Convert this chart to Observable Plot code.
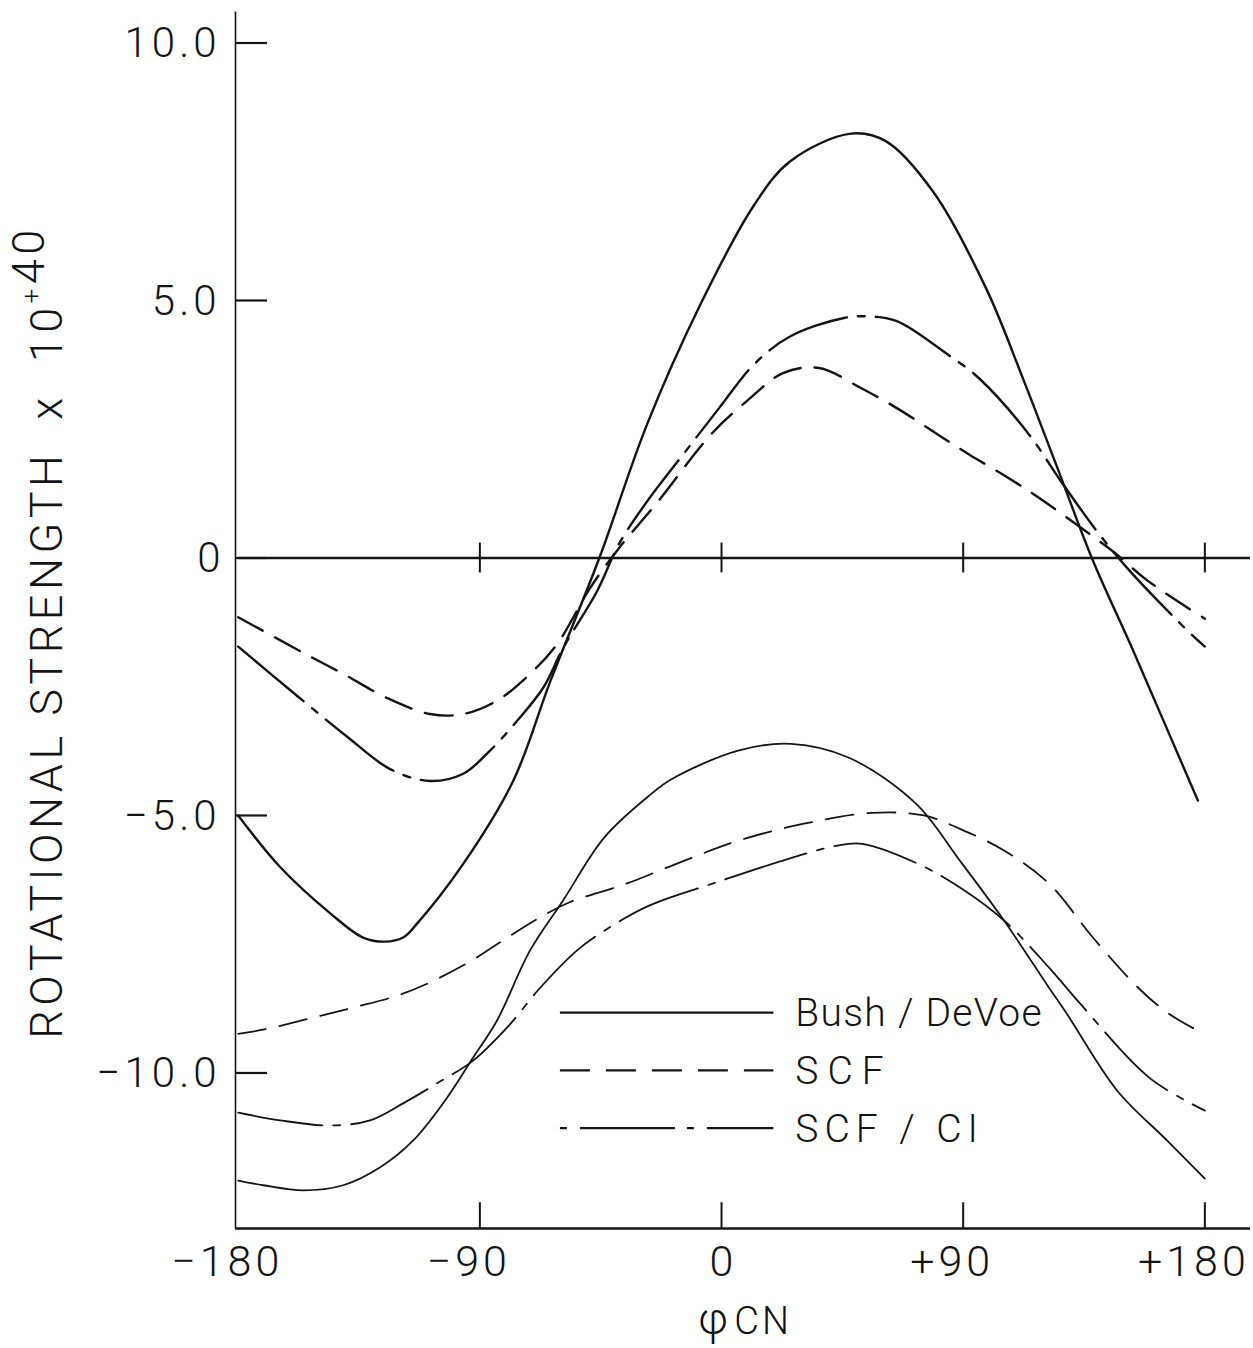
<!DOCTYPE html>
<html>
<head>
<meta charset="utf-8">
<script src="https://cdn.jsdelivr.net/npm/d3@7"></script>
<script src="https://cdn.jsdelivr.net/npm/@observablehq/plot@0.6"></script>
<style>
  html, body { margin: 0; padding: 0; background: #fff; }
  #chart { width: 1253px; height: 1348px; }
</style>
</head>
<body>
<div id="chart"></div>
<script>
// ---------- data ----------
// Upper set of curves (A)
const phiBushDeVoeA = [-180, -164.4, -145.7, -133.5, -125.3, -118.6, -113.4, -96.2, -77.6, -63.8, -45.5, -27.7, -7.6, 12.1, 25.5, 48.2, 61.3, 78.7, 98.5, 112.6, 125.3, 138.3, 152.8, 165.5, 177.4];
const rsBushDeVoeA  = [-5.0, -6.0, -6.9, -7.37, -7.45, -7.37, -7.1, -5.94, -4.33, -2.4, 0.0, 2.6, 4.95, 6.85, 7.7, 8.24, 8.09, 7.12, 5.24, 3.44, 1.72, -0.05, -1.74, -3.27, -4.71];

const phiSCFA = [-180, -155.8, -140.9, -124.5, -108.5, -96.2, -83.6, -71.3, -61.2, -48.9, -38.2, -23.6, -3.9, 9.5, 22.9, 36.3, 51.9, 65.3, 78.7, 92.2, 106.7, 120.1, 138, 146.5, 158.4, 180];
const rsSCFA  = [-1.15, -1.84, -2.25, -2.72, -3.03, -3.03, -2.77, -2.25, -1.67, -0.58, 0.19, 1.1, 2.4, 3.05, 3.59, 3.69, 3.3, 2.91, 2.46, 2.01, 1.56, 1.1, 0.43, 0.1, -0.43, -1.18];

const phiSCFCIA = [-180, -158, -139.4, -123.4, -108.5, -96.2, -86.2, -76.1, -66.4, -59, -46.3, -38.2, -27.7, -14.3, -0.9, 12.1, 25.5, 45.6, 54.9, 65.3, 84, 95.9, 114.5, 126.4, 139.8, 151.7, 174.1, 180];
const rsSCFCIA  = [-1.72, -2.68, -3.47, -4.1, -4.33, -4.19, -3.74, -3.16, -2.52, -1.75, -0.64, 0.27, 1.1, 2.01, 2.91, 3.76, 4.3, 4.66, 4.69, 4.6, 3.96, 3.49, 2.4, 1.49, 0.52, -0.23, -1.44, -1.72];

// Lower set of curves (B)
const phiBushDeVoeB = [-180, -170.7, -155.8, -140.9, -127.1, -114.8, -102.2, -92.5, -83.6, -71.3, -59, -43.7, -26.6, -18.8, 6.2, 25.9, 47.5, 72.4, 88.8, 105.2, 121.9, 128.6, 147.3, 165.9, 180];
const rsBushDeVoeB  = [-12.09, -12.18, -12.28, -12.18, -11.83, -11.31, -10.48, -9.7, -8.98, -7.62, -6.65, -5.43, -4.6, -4.3, -3.74, -3.61, -3.88, -4.77, -5.88, -7.04, -8.34, -8.85, -10.34, -11.31, -12.05];

const phiSCFB = [-180, -170.7, -153.2, -137.2, -120.8, -108.5, -92.5, -83.6, -67.6, -56.8, -35.2, -14, 6.2, 30.7, 55.7, 75.4, 88.8, 105.2, 121.9, 138.3, 155.1, 166.6, 180];
const rsSCFB  = [-9.24, -9.16, -8.94, -8.73, -8.5, -8.24, -7.8, -7.5, -6.98, -6.69, -6.32, -5.88, -5.49, -5.16, -4.95, -5.0, -5.26, -5.68, -6.32, -7.37, -8.34, -8.85, -9.25];

const phiSCFCIB = [-180, -164.4, -145.7, -130.9, -118.6, -105.9, -92.5, -79.9, -67.6, -53.8, -43.7, -27, -2, 22.5, 42.6, 52.3, 72.4, 88.8, 105.2, 121.9, 133.5, 159.5, 180];
const rsSCFCIB  = [-10.77, -10.92, -11.02, -10.92, -10.59, -10.2, -9.76, -9.12, -8.35, -7.62, -7.24, -6.75, -6.3, -5.88, -5.59, -5.55, -5.92, -6.4, -7.04, -7.95, -8.65, -10.1, -10.73];

// axes
const xTicks = [-180, -90, 0, 90, 180];
const xTickLabels = ["\u2212180", "\u221290", "0", "+90", "+180"];
const yTicks = [10, 5, 0, -5, -10];
const yTickLabels = ["10.0", "5.0", "0", "\u22125.0", "\u221210.0"];
const innerXTicks = [-90, 0, 90, 180];

// legend
const legendMethods = ["Bush/DeVoe", "SCF", "SCF/CI"];
const legendLabels = ["Bush / DeVoe", "SCF", "SCF / CI"];
const legendRS = [-8.83, -9.95, -11.07];

const xLabel = ["\u03C6", "CN"];
const yLabelMain = "ROTATIONAL STRENGTH  x  10";
const yLabelSup = ["+", "40"];

// ---------- build ----------
const X_DOMAIN = [-181, 197];
const Y_DOMAIN = [-13.02, 10.6];
const LEG_X1 = -60, LEG_X2 = 19.5, LEG_TX = 27.5;
const ZERO_TICK_HALF = 0.29;     // half length of ticks on the zero line (in y units)
const Y_TICK_LEN = 11.9;         // length of y ticks (in x units)
const X_TICK_LEN = 0.5;          // length of x ticks on bottom axis (in y units)

const dashOf = {"Bush/DeVoe": null, "SCF": "28,14", "SCF/CI": "85,11,7,11"};
const legendDash = {"Bush/DeVoe": null, "SCF": "30,16", "SCF/CI": "7,13,95,12"};
const legendSpacing = {"Bush / DeVoe": 1.3, "SCF": 9, "SCF / CI": 6};

const series = [
  {method: "Bush/DeVoe", set: "A", phi: phiBushDeVoeA, rs: rsBushDeVoeA},
  {method: "SCF", set: "A", phi: phiSCFA, rs: rsSCFA},
  {method: "SCF/CI", set: "A", phi: phiSCFCIA, rs: rsSCFCIA},
  {method: "Bush/DeVoe", set: "B", phi: phiBushDeVoeB, rs: rsBushDeVoeB},
  {method: "SCF", set: "B", phi: phiSCFB, rs: rsSCFB},
  {method: "SCF/CI", set: "B", phi: phiSCFCIB, rs: rsSCFCIB}
];

const ink = "#141414";
const fontFamily = "Roboto, 'Liberation Sans', 'DejaVu Sans', sans-serif";

const curveMarks = series.map(s => Plot.line(
  s.phi.map((p, i) => ({phi: p, rs: s.rs[i]})),
  {x: "phi", y: "rs", curve: "catmull-rom", stroke: ink,
   strokeWidth: s.set === "A" ? 2.4 : 1.8,
   strokeDasharray: dashOf[s.method]}
));

const legendRows = legendMethods.map((m, i) => ({method: m, label: legendLabels[i], rs: legendRS[i]}));
const legendMarks = legendRows.map(r =>
  Plot.ruleY([r], {y: "rs", x1: LEG_X1, x2: LEG_X2, stroke: ink, strokeWidth: 2.2,
    strokeDasharray: legendDash[r.method]})
);

const xSigned = xTicks.filter(d => d !== 0);
const xUnsigned = xTicks.filter(d => d === 0);

const plot = Plot.plot({
  width: 1253,
  height: 1348,
  marginLeft: 235,
  marginRight: 3,
  marginTop: 11.6,
  marginBottom: 120,
  style: {fontFamily, fontWeight: 300, background: "white", color: ink},
  x: {domain: X_DOMAIN, axis: null},
  y: {domain: Y_DOMAIN, axis: null},
  marks: [
    // frame lines
    Plot.ruleX([X_DOMAIN[0]], {y1: Y_DOMAIN[0], y2: Y_DOMAIN[1], stroke: ink, strokeWidth: 1.6}),
    Plot.ruleY([Y_DOMAIN[0]], {x1: X_DOMAIN[0], x2: X_DOMAIN[1], stroke: ink, strokeWidth: 2.6}),
    Plot.ruleY([0], {x1: -180, x2: X_DOMAIN[1], stroke: ink, strokeWidth: 2.4}),
    Plot.ruleX(innerXTicks, {x: d => d, y1: -ZERO_TICK_HALF, y2: ZERO_TICK_HALF, stroke: ink, strokeWidth: 2}),
    // y axis ticks and labels
    Plot.ruleY(yTicks, {y: d => d, x1: X_DOMAIN[0], x2: X_DOMAIN[0] + Y_TICK_LEN, stroke: ink, strokeWidth: 2.2}),
    Plot.text(yTicks, {x: X_DOMAIN[0], y: d => d, text: (d, i) => yTickLabels[i], textAnchor: "end",
      dx: -15, dy: 1, fontSize: 42, fill: ink}),
    // x axis ticks and labels
    Plot.ruleX(innerXTicks, {x: d => d, y1: Y_DOMAIN[0], y2: Y_DOMAIN[0] + X_TICK_LEN, stroke: ink, strokeWidth: 2}),
    Plot.text(xSigned, {x: d => d, y: Y_DOMAIN[0], text: d => xTickLabels[xTicks.indexOf(d)],
      dx: -11, dy: 34, fontSize: 43, fill: ink}),
    Plot.text(xUnsigned, {x: d => d, y: Y_DOMAIN[0], text: d => xTickLabels[xTicks.indexOf(d)],
      dy: 34, fontSize: 43, fill: ink}),
    // curves
    ...curveMarks,
    // legend
    ...legendMarks,
    Plot.text(legendRows, {x: LEG_TX, y: "rs", text: "label", textAnchor: "start", fontSize: 39, dy: 1, fill: ink})
  ]
});

document.getElementById("chart").appendChild(plot);

// letter spacing (the original lettering is wide)
const svg = d3.select(plot);
svg.selectAll("text").each(function () {
  const t = this.textContent;
  if (t in legendSpacing) this.setAttribute("letter-spacing", legendSpacing[t]);
  else if (t !== "0" && yTickLabels.includes(t)) this.setAttribute("letter-spacing", 4);
  else if (t !== "0" && xTickLabels.includes(t)) this.setAttribute("letter-spacing", 4);
});

// axis titles with superscript / mixed sizes (real text)
const yl = svg.append("text")
  .attr("transform", "translate(62,632) rotate(-90)")
  .attr("text-anchor", "middle")
  .attr("font-size", 45)
  .attr("letter-spacing", 4.5)
  .attr("fill", ink)
  .style("font-family", fontFamily)
  .style("font-weight", 300);
yl.append("tspan").text(yLabelMain);
yl.append("tspan").attr("font-size", 26).attr("dy", -22).text(yLabelSup[0]);
yl.append("tspan").attr("font-size", 45).attr("dy", 4).text(yLabelSup[1]);

const xl = svg.append("text")
  .attr("x", 745).attr("y", 1334)
  .attr("text-anchor", "middle")
  .attr("fill", ink)
  .style("font-family", fontFamily)
  .style("font-weight", 300);
xl.append("tspan").attr("font-size", 44).text(xLabel[0]);
xl.append("tspan").attr("font-size", 38).attr("dx", 6).attr("letter-spacing", 3).text(xLabel[1]);
</script>
</body>
</html>
